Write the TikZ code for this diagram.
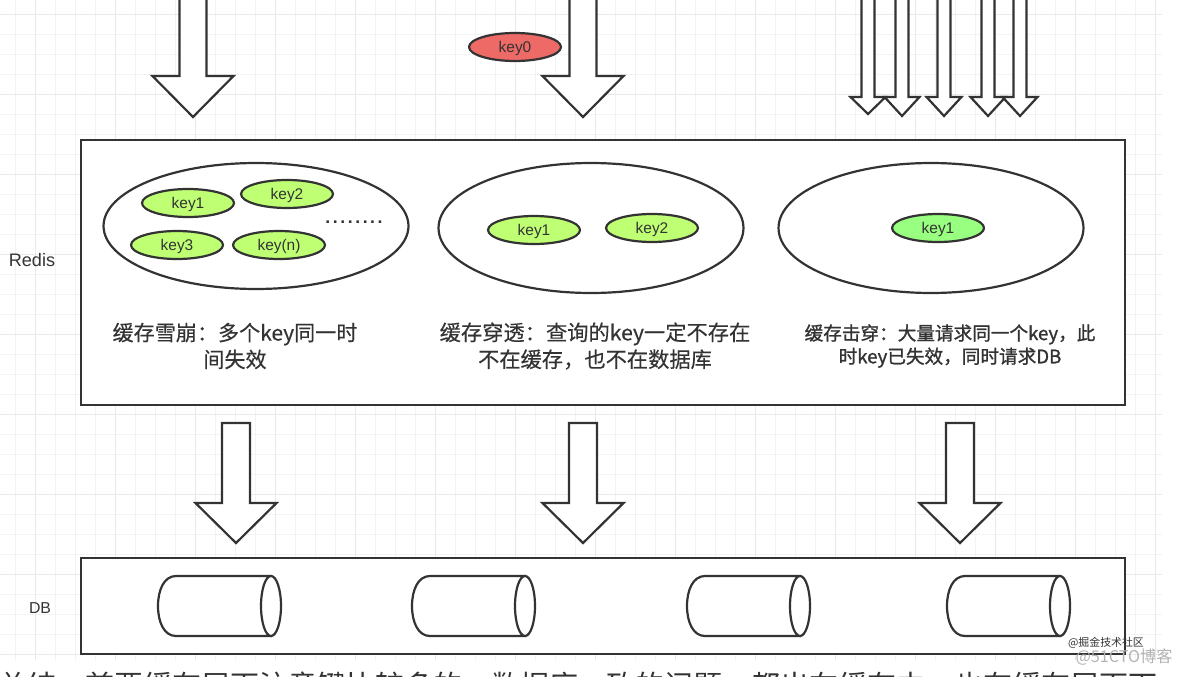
\documentclass[tikz,border=0pt]{standalone}
\usepackage{fontspec}
\setmainfont{Liberation Sans}
\newfontfamily\cjk[FakeBold=0.25]{Noto Sans CJK SC}
\newfontfamily\cjkplain{Noto Sans CJK SC}
\newfontfamily\cjkheavy[FakeBold=1.2]{Noto Sans CJK SC}
\newfontfamily\dotfont[LetterSpace=14.7]{Liberation Sans}
\usetikzlibrary{shapes.geometric}

\definecolor{LineGray}{HTML}{333333}
\definecolor{GridMinor}{HTML}{F3F3F3}
\definecolor{GridMajor}{HTML}{E9E9E9}
\definecolor{KeyGreen}{HTML}{BFFF73}
\definecolor{HotGreen}{HTML}{99FF80}
\definecolor{KeyRed}{HTML}{EE6A66}

\tikzset{
    Outline/.style={draw=LineGray,line width=1.25pt},
    KeyNode/.style={shape=ellipse,Outline,fill=KeyGreen,inner sep=0pt,
        minimum width=1.84cm,minimum height=0.56cm,text=LineGray,
        text height=7.5pt,text depth=0.7pt,
        font=\fontsize{8.8}{10}\selectfont},
    CacheNode/.style={shape=ellipse,Outline,fill=white,inner sep=0pt,
        minimum width=6.1cm,minimum height=2.6cm},
    CapNode/.style={shape=ellipse,Outline,fill=white,inner sep=0pt,
        minimum width=0.4cm,minimum height=1.2cm},
    NoteNode/.style={text=LineGray,align=center,font=\cjk\fontsize{12}{15.3}\selectfont},
    SideNode/.style={text=LineGray,font=\fontsize{9}{10}\selectfont}
}

% hollow arrow: centre x, top, shoulder, tip, half shaft, half head
\newcommand{\BlockArrow}[6]{
    \draw [Outline,fill=white] (#1-#5,#2) -- (#1-#5,#3) -- (#1-#6,#3) -- (#1,#4)
        -- (#1+#6,#3) -- (#1+#5,#3) -- (#1+#5,#2) -- cycle;
}

% lying drum: left x, name of its cap
\newcommand{\DbDrum}[2]{
    \draw [Outline,fill=white] (#1+18,576) .. controls (#1+6,576) and (#1,590) .. (#1,606)
        .. controls (#1,622) and (#1+6,636) .. (#1+18,636) -- (#1+113,636) -- (#1+113,576) -- cycle;
    \node (#2) at (#1+113,606) [CapNode] {};
}

\begin{document}
\begin{tikzpicture}[x=0.02cm,y=-0.02cm]

\clip (0,0) rectangle (1182,676);

% Background grid
\foreach \x in {15.7,35.7,...,1160} {
    \draw [GridMinor,line width=0.5pt] (\x,0) -- (\x,660);
}
\foreach \y in {14,34,...,660} {
    \draw [GridMinor,line width=0.5pt] (0,\y) -- (1162,\y);
}
\foreach \x in {35.7,115.7,...,1160} {
    \draw [GridMajor,line width=0.5pt] (\x,0) -- (\x,660);
}
\foreach \y in {14,94,...,660} {
    \draw [GridMajor,line width=0.5pt] (0,\y) -- (1162,\y);
}

% Layers
\draw [Outline,fill=white] (81,140) rectangle (1125,405);
\draw [Outline,fill=white] (81,558) rectangle (1125,654);
\node (Redis) at (32,260) [SideNode,font=\fontsize{10.3}{12}\selectfont] {Redis};
\node (DB) at (40,608) [SideNode] {DB};

% Requests into the cache
\BlockArrow{193}{-5}{76}{117}{13.5}{40.5}
\BlockArrow{583}{-5}{76}{117}{13.5}{40.5}
\foreach \x/\t in {868/114,902/116,944/116,988/116,1020/116} {
    \BlockArrow{\x}{-5}{97}{\t}{6.5}{17.5}
}

% Requests into the database
\foreach \x in {236,583,960} {
    \BlockArrow{\x}{423}{503}{543}{14}{40.5}
}

\node (K0) at (515,47) [KeyNode,fill=KeyRed] {key0};

% Cache contents
\node (A) at (256,226) [CacheNode,minimum height=2.52cm] {};
\node (B) at (591,228) [CacheNode] {};
\node (C) at (931,228) [CacheNode] {};

\node (A1) at (188,203) [KeyNode] {key1};
\node (A2) at (287,194) [KeyNode] {key2};
\node (A3) at (177,245) [KeyNode] {key3};
\node (A4) at (279,245) [KeyNode] {key(n)};
\node (AD) at (354,222) [font=\dotfont\bfseries\fontsize{10}{12}\selectfont,text=LineGray] {........};

\node (B1) at (534,230) [KeyNode] {key1};
\node (B2) at (652,228) [KeyNode] {key2};

\node (C1) at (938,228) [KeyNode,fill=HotGreen] {key1};

% Notes
\node (NA) at (235,346) [NoteNode] {缓存雪崩：多个key同一时\\间失效};
\node (NB) at (595,346) [NoteNode,font=\cjk\fontsize{12.1}{15.3}\selectfont] {缓存穿透：查询的key一定不存在\\不在缓存，也不在数据库};
\node (NC) at (950,346) [NoteNode,font=\cjkheavy\fontsize{10.6}{13.2}\selectfont] {缓存击穿：大量请求同一个key，此\\时key已失效，同时请求DB};

% Database
\foreach \x/\n in {158/D1,412/D2,687/D3,947/D4} {
    \DbDrum{\x}{\n}
}

% Cut off line and marks
\node (Rest) at (-8,686) [anchor=west,text=LineGray,font=\cjkplain\fontsize{16.5}{18}\selectfont] {总结，首要缓存层面注意键比较多的，数据库一致的问题，都出在缓存中，也有缓存层面下};
\node (M1) at (1106,643) [text=LineGray,font=\cjkplain\fontsize{6.2}{7}\selectfont] {@掘金技术社区};
\node (M2) at (1124,657) [text=black!30,font=\cjkplain\fontsize{9.2}{10}\selectfont] {@51CTO博客};

\end{tikzpicture}
\end{document}
